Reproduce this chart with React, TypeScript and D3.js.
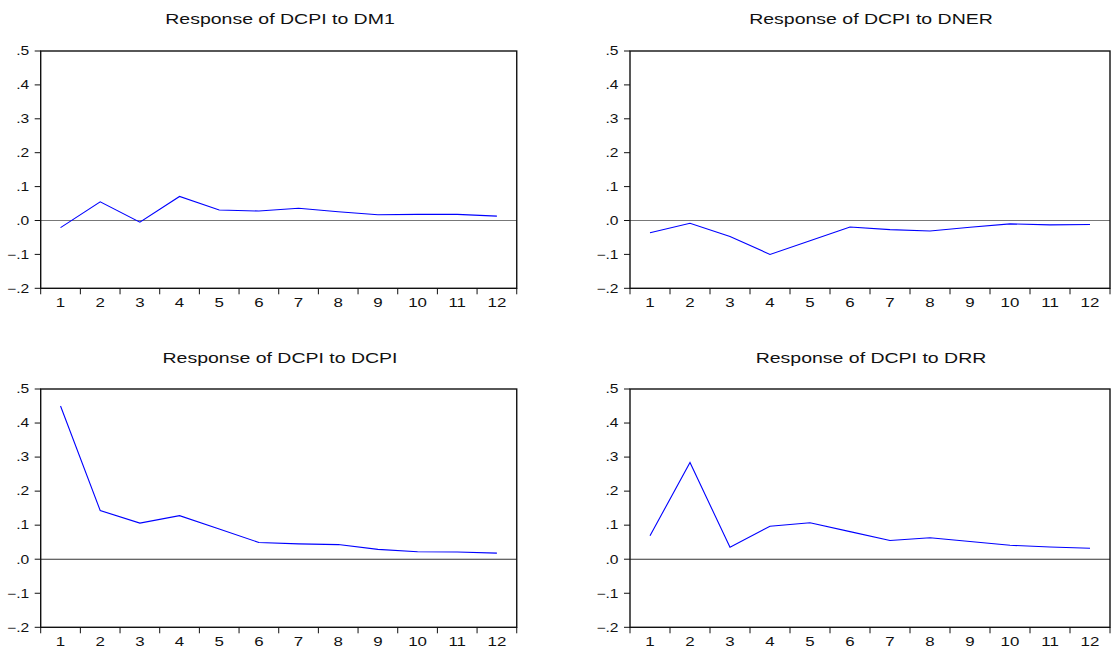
import React, { useEffect, useRef } from 'react';
import * as d3 from 'd3';

// Impulse responses of DCPI, periods 1..12
const periods = [1, 2, 3, 4, 5, 6, 7, 8, 9, 10, 11, 12];
const respDM1 = [-0.021, 0.055, -0.005, 0.071, 0.031, 0.028, 0.036, 0.026, 0.017, 0.018, 0.018, 0.013];
const respDNER = [-0.036, -0.008, -0.047, -0.100, -0.060, -0.019, -0.027, -0.031, -0.020, -0.010, -0.013, -0.012];
const respDCPI = [0.450, 0.143, 0.106, 0.128, 0.089, 0.049, 0.045, 0.043, 0.029, 0.022, 0.021, 0.018];
const respDRR = [0.069, 0.284, 0.035, 0.097, 0.107, 0.081, 0.055, 0.063, 0.052, 0.041, 0.036, 0.032];
const yTicks = [-0.2, -0.1, 0.0, 0.1, 0.2, 0.3, 0.4, 0.5];
const titles = [
  'Response of DCPI to DM1',
  'Response of DCPI to DNER',
  'Response of DCPI to DCPI',
  'Response of DCPI to DRR'
];

const W = 1114;
const H = 648;
const SX = 1.3; // the original picture is stretched horizontally

const fmtY = (v: number) => {
  const s = d3.format('.1f')(v);
  return s.replace('0.', '.');
};

const App: React.FC = () => {
  const svgRef = useRef<SVGSVGElement>(null);

  useEffect(() => {
    if (!svgRef.current) return;
    const root = d3.select(svgRef.current);
    root.selectAll('*').remove();

    const panels = [
      { title: titles[0], values: respDM1, left: 40.7, band: 39.67, top: 51, bottom: 288.3, titleX: 280, titleY: 24, zero: '#777' },
      { title: titles[1], values: respDNER, left: 630, band: 40, top: 51, bottom: 288.3, titleX: 871, titleY: 24, zero: '#777' },
      { title: titles[2], values: respDCPI, left: 40.7, band: 39.67, top: 389, bottom: 627.3, titleX: 280, titleY: 363, zero: '#333' },
      { title: titles[3], values: respDRR, left: 630, band: 40, top: 389, bottom: 627.3, titleX: 871, titleY: 363, zero: '#333' }
    ];

    panels.forEach(p => {
      const g = root.append('g');
      const right = p.left + p.band * periods.length;

      const x = d3.scaleBand<number>()
        .domain(periods)
        .range([p.left, right])
        .padding(0);

      const y = d3.scaleLinear()
        .domain([-0.2, 0.5])
        .range([p.bottom, p.top]);

      // Title
      g.append('g')
        .attr('transform', `translate(${p.titleX},${p.titleY}) scale(${SX},1)`)
        .append('text')
        .attr('text-anchor', 'middle')
        .attr('font-family', '"Liberation Sans", Arial, sans-serif')
        .attr('font-size', 15)
        .attr('fill', '#111')
        .text(p.title);

      // Zero line
      g.append('line')
        .attr('x1', p.left)
        .attr('x2', right)
        .attr('y1', y(0))
        .attr('y2', y(0))
        .attr('stroke', p.zero)
        .attr('stroke-width', 1.1);

      // Response line
      const line = d3.line<number>()
        .x((_, i) => (x(periods[i]) as number) + x.bandwidth() / 2)
        .y(d => y(d));

      g.append('path')
        .datum(p.values)
        .attr('d', line)
        .attr('fill', 'none')
        .attr('stroke', '#0000ff')
        .attr('stroke-width', 1.1);

      // Frame
      g.append('rect')
        .attr('x', p.left)
        .attr('y', p.top)
        .attr('width', right - p.left)
        .attr('height', p.bottom - p.top)
        .attr('fill', 'none')
        .attr('stroke', '#111')
        .attr('stroke-width', 1.4);

      // Y ticks + labels
      yTicks.forEach(t => {
        g.append('line')
          .attr('x1', p.left - 6)
          .attr('x2', p.left)
          .attr('y1', y(t))
          .attr('y2', y(t))
          .attr('stroke', '#111')
          .attr('stroke-width', 1);
        g.append('g')
          .attr('transform', `translate(${p.left - 11.5},${y(t)}) scale(${SX},1)`)
          .append('text')
          .attr('text-anchor', 'end')
          .attr('dy', '0.36em')
          .attr('font-family', '"Liberation Sans", Arial, sans-serif')
          .attr('font-size', 12)
          .attr('fill', '#111')
          .text(fmtY(t));
      });

      // X ticks at band edges
      const edges = periods.map(d => x(d) as number).concat([right]);
      edges.forEach(ex => {
        g.append('line')
          .attr('x1', ex)
          .attr('x2', ex)
          .attr('y1', p.bottom)
          .attr('y2', p.bottom + 6)
          .attr('stroke', '#111')
          .attr('stroke-width', 1);
      });

      // X labels
      periods.forEach(d => {
        g.append('g')
          .attr('transform', `translate(${(x(d) as number) + x.bandwidth() / 2},${p.bottom + 19}) scale(${SX},1)`)
          .append('text')
          .attr('text-anchor', 'middle')
          .attr('font-family', '"Liberation Sans", Arial, sans-serif')
          .attr('font-size', 13)
          .attr('fill', '#111')
          .text(String(d));
      });
    });
  }, []);

  return (
    <svg
      ref={svgRef}
      width={W}
      height={H}
      style={{ position: 'absolute', left: 0, top: 0, background: '#fff' }}
    />
  );
};

export default App;
